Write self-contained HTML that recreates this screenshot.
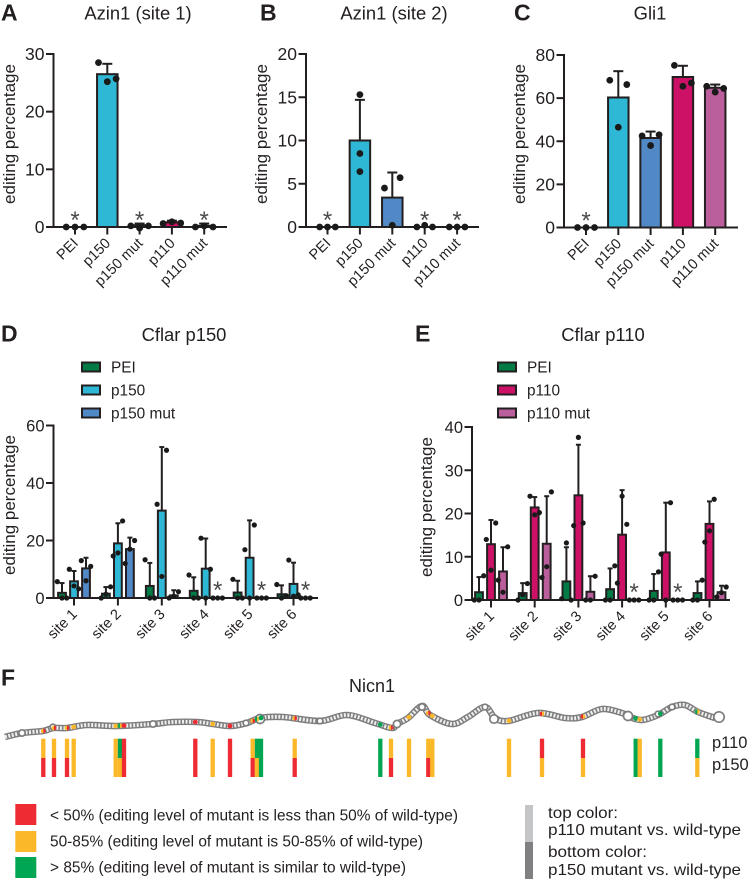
<!DOCTYPE html>
<html lang="en">
<head>
<meta charset="utf-8">
<title>Editing percentage figure</title>
<style>
html,body{margin:0;padding:0;background:#fff;}
svg{display:block;font-family:"Liberation Sans",Arial,sans-serif;}
text{fill:#231f20;}
</style>
</head>
<body>
<svg id="figure" xmlns="http://www.w3.org/2000/svg" width="749" height="884" viewBox="0 0 749 884">
  <rect width="749" height="884" fill="#fff"/>
  <g font-weight="bold" font-size="23">
    <text x="1" y="20.5">A</text>
    <text x="260" y="20.5">B</text>
    <text x="514" y="20.5">C</text>
    <text x="1" y="341.5">D</text>
    <text x="415" y="341.5">E</text>
    <text x="1" y="685.5">F</text>
  </g>
  <g font-size="15.4">
    <rect x="15.3" y="804" width="21" height="21" fill="#ee2a33"/>
    <rect x="15.3" y="831" width="21" height="21" fill="#fbb829"/>
    <rect x="15.3" y="857" width="21" height="21" fill="#00a651"/>
    <text x="50" y="820.5" textLength="408" lengthAdjust="spacingAndGlyphs">&lt; 50% (editing level of mutant is less than 50% of wild-type)</text>
    <text x="50" y="846.5" textLength="373" lengthAdjust="spacingAndGlyphs">50-85% (editing level of mutant is 50-85% of wild-type)</text>
    <text x="50" y="872.5" textLength="356" lengthAdjust="spacingAndGlyphs">&gt; 85% (editing level of mutant is similar to wild-type)</text>
    <rect x="525" y="805" width="8" height="37" fill="#c4c5c7"/>
    <rect x="525" y="842" width="8" height="37" fill="#808083"/>
    <text x="548" y="818" textLength="70" lengthAdjust="spacingAndGlyphs" font-size="16">top color:</text>
    <text x="548" y="835" textLength="193" lengthAdjust="spacingAndGlyphs" font-size="16">p110 mutant vs. wild-type</text>
    <text x="548" y="857" textLength="99" lengthAdjust="spacingAndGlyphs" font-size="16">bottom color:</text>
    <text x="548" y="875" textLength="193" lengthAdjust="spacingAndGlyphs" font-size="16">p150 mutant vs. wild-type</text>
  </g>
  <text x="372" y="692" font-size="18" text-anchor="middle">Nicn1</text>
  <text x="712" y="748" font-size="16.5">p110</text>
  <text x="712" y="770" font-size="16.5">p150</text>
</svg>
<script>
const NS = 'http://www.w3.org/2000/svg';
const root = document.getElementById('figure');

/* ---------- Colours ---------- */
const COLORS = {'PEI':'#007b45','p150':'#2fb8d5','p150 mut':'#5089c6','p110':'#cc1166','p110 mut':'#bb5f9c'};
const STATUS = {R:'#ee2a33',Y:'#fbb829',G:'#00a651'};

/* ---------- Panels A–C data ---------- */
const barCategories = ['PEI','p150','p150 mut','p110','p110 mut'];

const azin1Site1Ticks = [0,10,20,30];
const azin1Site1Means = [0,26.5,0.3,0.8,0.2];
const azin1Site1Whiskers = [0,28.3,0.6,1.1,0.6];
const azin1Site1Points = [[0,0,0],[28.5,25.2,25.7],[0.2,-0.2,0.2],[0.6,0.9,0.7],[0,0.2,0]];
const azin1Site1Stars = ['PEI','p150 mut','p110 mut'];

const azin1Site2Ticks = [0,5,10,15,20];
const azin1Site2Means = [0,10,3.4,0,0];
const azin1Site2Whiskers = [0,14.7,6.3,0,0];
const azin1Site2Points = [[0,0,0],[15.3,8.5,6.4],[4.5,0.2,5.7],[0,0.2,0],[0,0,0]];
const azin1Site2Stars = ['PEI','p110','p110 mut'];
const azin1Site2Stacked = ['p150'];

const gli1Ticks = [0,20,40,60,80];
const gli1Means = [0,60.3,41.5,69.8,64.8];
const gli1Whiskers = [0,72.5,44.5,75,66.3];
const gli1Points = [[0,0,0],[68.3,46.5,66.3],[42.5,38,43],[75.2,65.5,67],[65.5,62.8,64.5]];
const gli1Stars = ['PEI'];

/* ---------- Panel D data ---------- */
const siteCategories = ['site 1','site 2','site 3','site 4','site 5','site 6'];
const cflarP150Ticks = [0,20,40,60];
const cflarP150Series = ['PEI','p150','p150 mut'];
const cflarP150PeiMeans = [1.8,1.5,4.2,2.5,1.9,1.3];
const cflarP150PeiWhiskers = [5.2,3.8,12.2,7.2,6,4.4];
const cflarP150PeiPoints = [[5.7,0,0],[0,1.3,3.9],[13.3,0,0],[8,0,0],[6.5,0,0],[4.7,0,0.8]];
const cflarP150WtMeans = [5.8,19,30.4,10.2,14,4.9];
const cflarP150WtWhiskers = [9.4,26,52.5,20.7,27,12.3];
const cflarP150WtPoints = [[10,4.2,3.2],[14.6,15.7,26.8],[32.6,7.5,51.4],[20.8,0,10],[16.8,0,25.4],[13.2,0.6,1.1]];
const cflarP150MutMeans = [10.3,17,0.9,0,0,0];
const cflarP150MutWhiskers = [14,21,2.7,0,0,0];
const cflarP150MutPoints = [[13,6,11],[12,17,20],[0,0.6,2.2],[0,0,0],[0,0,0],[0,0,0]];
const cflarP150Stars = ['site 4','site 5','site 6'];

/* ---------- Panel E data ---------- */
const cflarP110Ticks = [0,10,20,30,40];
const cflarP110Series = ['PEI','p110','p110 mut'];
const cflarP110PeiMeans = [1.8,1.6,4.3,2.5,2.1,1.6];
const cflarP110PeiWhiskers = [5.3,3.9,12.2,7.3,6,4.3];
const cflarP110PeiPoints = [[0,0,5.6],[0,1.2,3.8],[0.3,13.2,0],[0,0,7.9],[0,0,6.5],[0,0,4.6]];
const cflarP110WtMeans = [12.9,21.4,24.2,15.1,11,17.6];
const cflarP110WtWhiskers = [18.5,23.8,35.9,25.4,22.5,22.8];
const cflarP110WtPoints = [[14,6.9,17.8],[24,19.7,20.2],[17.2,37.6,17.8],[3.9,24,17.5],[10.6,0,22.5],[13.4,16,23.3]];
const cflarP110MutMeans = [6.6,13,1.9,0,0,1.8];
const cflarP110MutWhiskers = [12.2,24,5.5,0,0,3.3];
const cflarP110MutPoints = [[4.6,1.8,12.3],[5.2,7.7,25],[0,0,5.5],[0,0,0],[0,0,0],[0.7,1.7,3]];
const cflarP110Stars = ['site 4','site 5'];

/* ---------- Panel F data: position along transcript, p110 status, p150 status ---------- */
const nicn1Sites = [43.3,54,67,73.7,115.7,120,124,195.3,212.7,230,252.7,257,261,294.7,380.3,391,409,428.3,432.3,509,542,583,635.7,639.7,660.3,697.3];
const nicn1P110 = ['Y','Y','Y','Y','Y','G','R','R','Y','R','Y','G','G','Y','G','Y','Y','Y','Y','Y','R','R','G','Y','G','G'];
const nicn1P150 = ['R','R','R','Y','Y','Y','R','R','Y','R','R','Y','G','R','G','R','Y','R','Y','Y','Y','Y','G','Y','G','Y'];

/* ---------- Helpers ---------- */
function mk(tag, attrs, parent){
  const e = document.createElementNS(NS, tag);
  for (const k in attrs) e.setAttribute(k, attrs[k]);
  (parent || root).appendChild(e);
  return e;
}
const INK = '#231f20';
const LINE_W = 2;

function drawAxes(g, p, yScale, ticks, tickXs, labels){
  tickXs.forEach((tx, i) => {
    const tick = mk('line',{x1:tx,x2:tx,y1:p.y0,y2:p.y0+7.5,stroke:INK,'stroke-width':LINE_W},g);
    
    
    const lx = tx + 4, ly = p.y0 + 17;
    const lab = mk('text',{x:lx,y:ly,'font-size':14.6,'text-anchor':'end',transform:'rotate(-45 '+lx+' '+ly+')'},g);
    lab.textContent = labels[i];
    
    
  });
  const yAxis = mk('line',{x1:p.axisX,x2:p.axisX,y1:yScale(ticks[ticks.length-1])-1,y2:p.y0+1,stroke:INK,'stroke-width':LINE_W},g);
  
  
  const xAxis = mk('line',{x1:p.axisX,x2:p.axisEnd,y1:p.y0,y2:p.y0,stroke:INK,'stroke-width':LINE_W},g);
  
  
  ticks.forEach(t => {
    const y = yScale(t);
    const tl = mk('line',{x1:p.axisX-7.5,x2:p.axisX,y1:y,y2:y,stroke:INK,'stroke-width':LINE_W},g);
    
    
    const tt = mk('text',{x:p.axisX-9,y:y+6,'font-size':p.tickFont,'text-anchor':'end'},g);
    tt.textContent = t;
    
    
  });
  const ytx = p.titleX, yty = p.titleY;
  const yt = mk('text',{x:ytx,y:yty,'font-size':17,'text-anchor':'middle',transform:'rotate(-90 '+ytx+' '+yty+')'},g);
  yt.textContent = 'editing percentage';
  
  
  const title = mk('text',{x:p.chartTitleX,y:p.chartTitleY,'font-size':18.4,'text-anchor':'middle'},g);
  title.textContent = p.title;
  
  
}

function drawColumn(g, cx, w, mean, whisk, color, yScale, p, capW){
  if (mean > 0) {
    const bar = mk('rect',{x:cx-w/2,y:yScale(mean),width:w,height:p.y0-yScale(mean),fill:color,stroke:INK,'stroke-width':LINE_W},g);
    
    
  }
  if (whisk > mean) {
    const eb = mk('line',{x1:cx,x2:cx,y1:yScale(mean),y2:yScale(whisk),stroke:INK,'stroke-width':LINE_W},g);
    
    
    const cap = mk('line',{x1:cx-capW/2,x2:cx+capW/2,y1:yScale(whisk),y2:yScale(whisk),stroke:INK,'stroke-width':LINE_W},g);
    
    
  }
}

function drawStar(g, x, y0){
  const s = mk('text',{x:x,y:y0+1,'font-size':24,'text-anchor':'middle',style:'fill:#4a4a4a'},g);
  s.textContent = '*';
  
  
}

function barPanel(p, ticks, means, whiskers, points, stars, stacked){
  const g = mk('g',{});
  
  
  const yMax = ticks[ticks.length-1];
  const yScale = v => p.y0 - (v/yMax)*(p.y0-p.yTop);
  const xScale = i => p.x0 + i*p.step;
  const tickXs = barCategories.map((c,i)=>xScale(i));
  barCategories.forEach((c,i)=>{
    drawColumn(g, xScale(i), 20.5, means[i], whiskers[i], COLORS[c], yScale, p, 10);
  });
  drawAxes(g,p,yScale,ticks,tickXs,barCategories);
  barCategories.forEach((c,i)=>{
    const spread = (stacked||[]).includes(c) ? 0 : p.spread;
    points[i].forEach((v,k)=>{
      const dot = mk('circle',{cx:xScale(i)+(k-1)*spread,cy:yScale(v),r:3.4,fill:'#1a1a1a'},g);
      
      
    });
    if (stars.includes(c)) drawStar(g, xScale(i), p.y0);
  });
}

function groupPanel(p, ticks, series, means, whiskers, points, stars){
  const g = mk('g',{});
  
  
  const yMax = ticks[ticks.length-1];
  const yScale = v => p.y0 - (v/yMax)*(p.y0-p.yTop);
  const xScale = i => p.x0 + i*p.step;
  const tickXs = siteCategories.map((c,i)=>xScale(i));
  siteCategories.forEach((c,i)=>{
    series.forEach((s,k)=>{
      drawColumn(g, xScale(i)+(k-1)*12, 7.8, means[k][i], whiskers[k][i], COLORS[s], yScale, p, 5);
    });
  });
  drawAxes(g,p,yScale,ticks,tickXs,siteCategories);
  siteCategories.forEach((c,i)=>{
    series.forEach((s,k)=>{
      points[k][i].forEach((v,q)=>{
        const dot = mk('circle',{cx:xScale(i)+(k-1)*12+(q-1)*4.7,cy:yScale(v),r:2.6,fill:'#1a1a1a'},g);
        
        
      });
    });
    if (stars.includes(c)) drawStar(g, xScale(i)+12, p.y0-1);
  });
  series.forEach((s,k)=>{
    const y = p.legendY + k*23;
    const sw = mk('rect',{x:p.legendX,y:y-4.5,width:18,height:9,fill:COLORS[s],stroke:INK,'stroke-width':LINE_W},g);
    
    
    const t = mk('text',{x:p.legendX+29,y:y+5.5,'font-size':15.4},g);
    t.textContent = s;
    
    
  });
}

barPanel({name:'azin1-site1-chart',title:'Azin1 (site 1)',chartTitleX:138,chartTitleY:19.5,axisX:53.5,axisEnd:227,y0:227,yTop:54,x0:75,step:32.3,spread:8.8,tickFont:17.5,titleX:15,titleY:134},
  azin1Site1Ticks,azin1Site1Means,azin1Site1Whiskers,azin1Site1Points,azin1Site1Stars);
barPanel({name:'azin1-site2-chart',title:'Azin1 (site 2)',chartTitleX:394,chartTitleY:19.5,axisX:306,axisEnd:479,y0:227,yTop:54,x0:327.5,step:32.4,spread:7.8,tickFont:17.5,titleX:267,titleY:134},
  azin1Site2Ticks,azin1Site2Means,azin1Site2Whiskers,azin1Site2Points,azin1Site2Stars,azin1Site2Stacked);
barPanel({name:'gli1-chart',title:'Gli1',chartTitleX:650,chartTitleY:19.5,axisX:564,axisEnd:738,y0:227.5,yTop:55,x0:586,step:32.3,spread:8.5,tickFont:17.5,titleX:525,titleY:134},
  gli1Ticks,gli1Means,gli1Whiskers,gli1Points,gli1Stars);

groupPanel({name:'cflar-p150-chart',title:'Cflar p150',chartTitleX:184,chartTitleY:341,axisX:53.5,axisEnd:318,y0:598,yTop:425.5,x0:74,step:43.9,tickFont:16.5,titleX:15,titleY:505,legendX:82,legendY:367},
  cflarP150Ticks,cflarP150Series,
  [cflarP150PeiMeans,cflarP150WtMeans,cflarP150MutMeans],
  [cflarP150PeiWhiskers,cflarP150WtWhiskers,cflarP150MutWhiskers],
  [cflarP150PeiPoints,cflarP150WtPoints,cflarP150MutPoints],cflarP150Stars);
groupPanel({name:'cflar-p110-chart',title:'Cflar p110',chartTitleX:603,chartTitleY:341,axisX:472,axisEnd:730,y0:600,yTop:427,x0:491,step:43.7,tickFont:16.5,titleX:432,titleY:507,legendX:498,legendY:367},
  cflarP110Ticks,cflarP110Series,
  [cflarP110PeiMeans,cflarP110WtMeans,cflarP110MutMeans],
  [cflarP110PeiWhiskers,cflarP110WtWhiskers,cflarP110MutWhiskers],
  [cflarP110PeiPoints,cflarP110WtPoints,cflarP110MutPoints],cflarP110Stars);

/* ---------- Panel F: secondary structure and site strips ---------- */
const backbone = [[5,737],[22,733],[43,731],[53,728],[67,728],[87,725],[117,726],[153,724],[173,722],[197,722],[213,724],[230,726],[247,723],[260,718],[283,717],[320,721],[347,715],[375,723],[392,728],[397,724],[408,718],[422,706],[430,715],[452,724],[468,717],[485,707],[495,718],[508,721],[538,713],[565,718],[582,717],[602,709],[622,713],[630,717],[642,720],[658,715],[672,707],[685,705],[698,712],[715,718]];
const loops = [[22,733,3.2],[53,727,2.8],[153,724,3.2],[246,723,2.8],[260,719,4.5],[320,721,2.8],[397,724,3.6],[422,707,3.2],[485,707,2.8],[494,719,4.2],[628,716,4.5],[658,714,2.8],[672,707,2.8],[719,717,5.2]];

function smoothPath(pts){
  let d = 'M'+pts[0][0]+' '+pts[0][1];
  for (let i=0;i<pts.length-1;i++){
    const a=pts[Math.max(i-1,0)],b=pts[i],c=pts[i+1],e=pts[Math.min(i+2,pts.length-1)];
    d+=' C'+(b[0]+(c[0]-a[0])/6).toFixed(1)+' '+(b[1]+(c[1]-a[1])/6).toFixed(1)+' '+(c[0]-(e[0]-b[0])/6).toFixed(1)+' '+(c[1]-(e[1]-b[1])/6).toFixed(1)+' '+c[0]+' '+c[1];
  }
  return d;
}
function backboneY(x){
  for (let i=0;i<backbone.length-1;i++){
    const a=backbone[i],b=backbone[i+1];
    if (x>=a[0]&&x<=b[0]) return a[1]+(b[1]-a[1])*(x-a[0])/(b[0]-a[0]);
  }
  return backbone[backbone.length-1][1];
}

const structure = mk('g',{});


const d = smoothPath(backbone);
const outer = mk('path',{d:d,fill:'none',stroke:'#7d7d7d','stroke-width':6.6},structure);


const inner = mk('path',{d:d,fill:'none',stroke:'#eeeeee','stroke-width':3.8,'stroke-dasharray':'2 1.5'},structure);


loops.forEach(l=>{
  const c = mk('circle',{cx:l[0],cy:l[1],r:l[2],fill:'#fff',stroke:'#7d7d7d','stroke-width':1.7},structure);
  
  
});

const strips = mk('g',{});


const stripTop = 738.7, stripMid = 758, stripBottom = 777, stripW = 4.3;
nicn1Sites.forEach((x,i)=>{
  const top = mk('rect',{x:x-stripW/2,y:stripTop,width:stripW,height:stripMid-stripTop,fill:STATUS[nicn1P110[i]]},strips);
  
  
  const bottom = mk('rect',{x:x-stripW/2,y:stripMid,width:stripW,height:stripBottom-stripMid,fill:STATUS[nicn1P150[i]]},strips);
  
  
  const y = backboneY(x), r = 2.4;
  const left = mk('path',{d:'M'+x+' '+(y-r)+' A'+r+' '+r+' 0 0 0 '+x+' '+(y+r)+' Z',fill:STATUS[nicn1P110[i]]},structure);
  
  
  const right = mk('path',{d:'M'+x+' '+(y-r)+' A'+r+' '+r+' 0 0 1 '+x+' '+(y+r)+' Z',fill:STATUS[nicn1P150[i]]},structure);
  
  
});
</script>
</body>
</html>
